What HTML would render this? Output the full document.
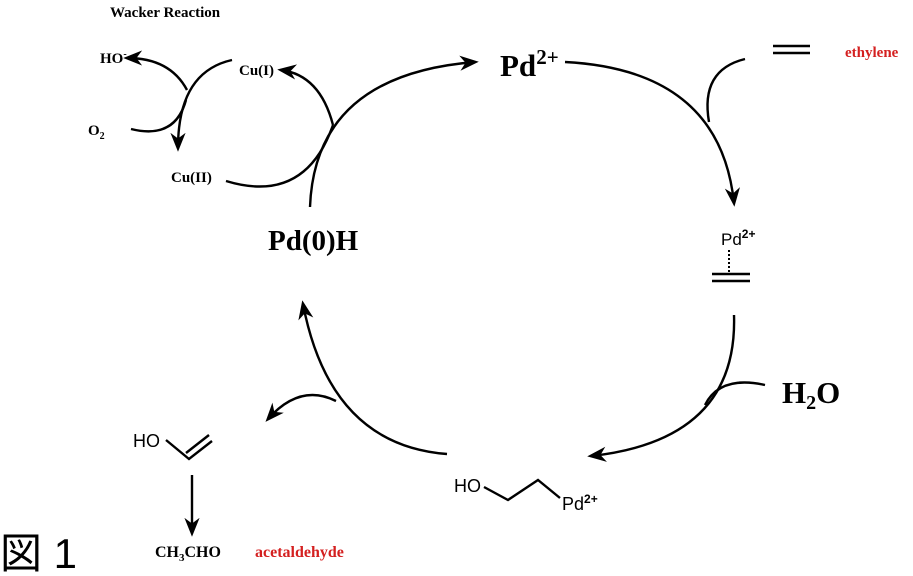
<!DOCTYPE html>
<html><head><meta charset="utf-8"><style>
html,body{margin:0;padding:0;background:#fff;}
svg{display:block;}
.s{fill:none;stroke:#000;stroke-width:2.4;}
.bs{font-family:"Liberation Serif",serif;font-weight:bold;}
.ss{font-family:"Liberation Sans",sans-serif;}
</style></head><body>
<svg width="913" height="576" viewBox="0 0 913 576" xmlns="http://www.w3.org/2000/svg">
<defs>
<marker id="b" viewBox="0 0 10 10" refX="8" refY="5" markerWidth="19" markerHeight="19" markerUnits="userSpaceOnUse" orient="auto">
<path d="M0,1 L10,5 L0,9 L3,5 Z" fill="#000"/></marker>
</defs>
<text x="110" y="17" class="bs" font-size="15">Wacker Reaction</text>
<path class="s" d="M565,62 Q720,70 734,203" marker-end="url(#b)"/>
<path class="s" d="M745,59 Q700,70 709,122"/>
<path class="s" d="M734,315 Q738,440 591,456" marker-end="url(#b)"/>
<path class="s" d="M765,385 Q720,375 705,405"/>
<path class="s" d="M447,454 Q330,445 303,304" marker-end="url(#b)"/>
<path class="s" d="M336,401 Q300,383 268,419" marker-end="url(#b)"/>
<path class="s" d="M310,207 Q315,75 475,62" marker-end="url(#b)"/>
<path class="s" d="M333,125 Q320,75 281,70" marker-end="url(#b)"/>
<path class="s" d="M226,181 Q305,205 333,125"/>
<path class="s" d="M232,60 Q178,72 178,148" marker-end="url(#b)"/>
<path class="s" d="M187,90 Q170,58 127,58" marker-end="url(#b)"/>
<path class="s" d="M131,129 Q175,140 186,100"/>
<text x="100" y="63" class="bs" font-size="15">HO<tspan dy="-6" font-size="10">-</tspan></text>
<text x="239" y="75" class="bs" font-size="15">Cu(I)</text>
<text x="88" y="135" class="bs" font-size="15">O<tspan dy="4" font-size="10">2</tspan></text>
<text x="171" y="182" class="bs" font-size="15">Cu(II)</text>
<text x="268" y="250" class="bs" font-size="29">Pd(0)H</text>
<text x="500" y="76" class="bs" font-size="31">Pd<tspan dy="-12" font-size="21">2+</tspan></text>
<path class="s" d="M773,46 H810 M773,53 H810"/>
<text x="845" y="57" class="bs" font-size="15" fill="#d42020">ethylene</text>
<text x="721" y="245" class="ss" font-size="17">Pd<tspan dy="-7" font-size="12" font-weight="bold">2+</tspan></text>
<path d="M729,250 V273" stroke="#000" stroke-width="2" stroke-dasharray="2,2"/>
<path class="s" d="M712,274 H750 M712,281 H750"/>
<text x="782" y="403" class="bs" font-size="31">H<tspan dy="6" font-size="20">2</tspan><tspan dy="-6">O</tspan></text>
<text x="454" y="492" class="ss" font-size="18">HO</text>
<path class="s" d="M484,487 L508,500 L538,480 L560,498"/>
<text x="562" y="510" class="ss" font-size="18">Pd<tspan dy="-7" font-size="12" font-weight="bold">2+</tspan></text>
<text x="133" y="447" class="ss" font-size="18">HO</text>
<path class="s" d="M166,440 L189,459 L212,441"/>
<path class="s" d="M186,453 L209,435"/>
<path class="s" d="M192,475 V533" marker-end="url(#b)"/>
<text x="155" y="557" class="bs" font-size="16">CH<tspan dy="4" font-size="11">3</tspan><tspan dy="-4">CHO</tspan></text>
<text x="255" y="557" class="bs" font-size="16" fill="#d42020">acetaldehyde</text>
<text x="0" y="568" font-family="'Liberation Sans','Noto Sans CJK JP',sans-serif" font-size="42">図 1</text>
</svg>
</body></html>
